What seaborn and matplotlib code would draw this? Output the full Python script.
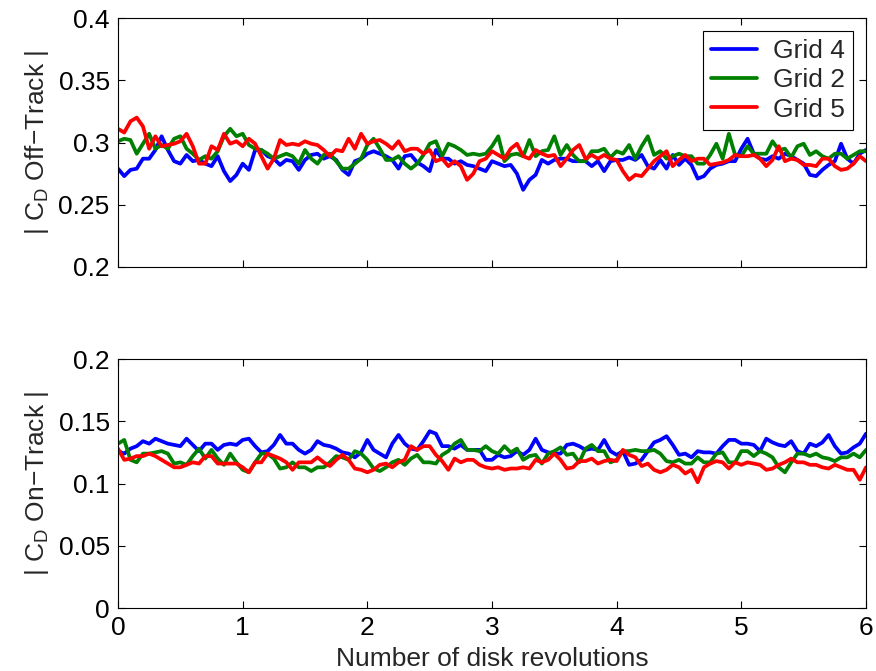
import numpy as np
import pandas as pd
import matplotlib
matplotlib.use("Agg")
import matplotlib.pyplot as plt
import seaborn as sns

# ---------------- data ----------------
revolutions = np.round(np.linspace(0.0, 6.0, 121), 3)
grids = ["Grid 4", "Grid 2", "Grid 5"]
colors = ["#0000ff", "#008000", "#ff0000"]

off_grid4 = [
    0.279, 0.273, 0.278, 0.279, 0.287, 0.287, 0.294, 0.305, 0.294, 0.285, 0.283, 0.290, 0.285, 0.286, 0.283, 0.281,
    0.289, 0.277, 0.269, 0.274, 0.283, 0.278, 0.294, 0.294, 0.289, 0.287, 0.282, 0.286, 0.285, 0.278, 0.286,
    0.290, 0.291, 0.287, 0.289, 0.286, 0.278, 0.274, 0.285, 0.287, 0.291, 0.293, 0.291, 0.289, 0.286, 0.279,
    0.289, 0.290, 0.284, 0.281, 0.277, 0.294, 0.287, 0.287, 0.283, 0.285, 0.282, 0.281, 0.279, 0.277, 0.285,
    0.283, 0.281, 0.282, 0.275, 0.262, 0.270, 0.274, 0.286, 0.283, 0.286, 0.287, 0.287, 0.285, 0.285, 0.285,
    0.281, 0.285, 0.277, 0.285, 0.286, 0.286, 0.288, 0.286, 0.290, 0.281, 0.279, 0.286, 0.279, 0.290, 0.282,
    0.287, 0.282, 0.271, 0.273, 0.279, 0.282, 0.283, 0.285, 0.285, 0.295, 0.303, 0.291, 0.287, 0.286, 0.289,
    0.287, 0.291, 0.289, 0.286, 0.283, 0.274, 0.273, 0.278, 0.282, 0.285, 0.299, 0.287, 0.283, 0.291, 0.294,
]
off_grid2 = [
    0.301, 0.303, 0.302, 0.291, 0.299, 0.307, 0.295, 0.298, 0.295, 0.303, 0.305, 0.295, 0.291, 0.286, 0.289, 0.287,
    0.293, 0.305, 0.311, 0.305, 0.307, 0.298, 0.295, 0.294, 0.291, 0.287, 0.289, 0.291, 0.289, 0.283, 0.294,
    0.287, 0.283, 0.290, 0.291, 0.285, 0.279, 0.279, 0.283, 0.287, 0.298, 0.303, 0.295, 0.286, 0.286, 0.289,
    0.283, 0.279, 0.283, 0.290, 0.299, 0.301, 0.289, 0.299, 0.297, 0.294, 0.290, 0.291, 0.290, 0.291, 0.297,
    0.305, 0.285, 0.290, 0.291, 0.289, 0.302, 0.289, 0.293, 0.294, 0.305, 0.290, 0.298, 0.290, 0.285, 0.285,
    0.293, 0.293, 0.295, 0.288, 0.293, 0.291, 0.298, 0.287, 0.297, 0.305, 0.290, 0.293, 0.287, 0.289, 0.291,
    0.289, 0.289, 0.283, 0.283, 0.290, 0.299, 0.287, 0.307, 0.290, 0.289, 0.297, 0.291, 0.291, 0.291, 0.301,
    0.294, 0.295, 0.288, 0.297, 0.299, 0.290, 0.293, 0.289, 0.287, 0.291, 0.291, 0.287, 0.290, 0.293, 0.293,
]
off_grid5 = [
    0.311, 0.308, 0.317, 0.320, 0.313, 0.295, 0.305, 0.297, 0.298, 0.299, 0.301, 0.307, 0.297, 0.283, 0.283, 0.297,
    0.294, 0.307, 0.299, 0.301, 0.297, 0.303, 0.299, 0.289, 0.279, 0.287, 0.302, 0.298, 0.299, 0.298, 0.301,
    0.299, 0.298, 0.294, 0.289, 0.294, 0.293, 0.303, 0.295, 0.307, 0.299, 0.301, 0.302, 0.299, 0.295, 0.301,
    0.293, 0.295, 0.295, 0.291, 0.294, 0.285, 0.287, 0.281, 0.285, 0.281, 0.270, 0.275, 0.285, 0.287, 0.293,
    0.290, 0.287, 0.295, 0.299, 0.289, 0.287, 0.294, 0.291, 0.289, 0.290, 0.281, 0.287, 0.294, 0.298, 0.287,
    0.290, 0.287, 0.290, 0.287, 0.286, 0.277, 0.270, 0.274, 0.273, 0.279, 0.285, 0.289, 0.293, 0.281, 0.286,
    0.290, 0.285, 0.287, 0.287, 0.282, 0.283, 0.284, 0.286, 0.290, 0.289, 0.289, 0.290, 0.287, 0.281, 0.286,
    0.297, 0.285, 0.287, 0.286, 0.282, 0.282, 0.281, 0.287, 0.287, 0.281, 0.278, 0.279, 0.283, 0.289, 0.285,
]

on_grid4 = [
    0.126, 0.124, 0.128, 0.130, 0.134, 0.132, 0.136, 0.134, 0.132, 0.131, 0.130, 0.136, 0.131, 0.126, 0.132, 0.132,
    0.127, 0.131, 0.132, 0.131, 0.135, 0.136, 0.130, 0.125, 0.126, 0.131, 0.139, 0.132, 0.132, 0.127, 0.124,
    0.127, 0.134, 0.131, 0.130, 0.128, 0.125, 0.124, 0.121, 0.125, 0.135, 0.127, 0.124, 0.121, 0.132, 0.139,
    0.132, 0.128, 0.127, 0.134, 0.142, 0.140, 0.130, 0.130, 0.128, 0.131, 0.127, 0.127, 0.127, 0.119, 0.119,
    0.123, 0.121, 0.122, 0.126, 0.123, 0.127, 0.136, 0.127, 0.125, 0.124, 0.124, 0.131, 0.132, 0.130, 0.127,
    0.128, 0.127, 0.135, 0.126, 0.123, 0.126, 0.115, 0.116, 0.119, 0.126, 0.133, 0.135, 0.138, 0.131, 0.123,
    0.124, 0.121, 0.126, 0.125, 0.125, 0.124, 0.130, 0.135, 0.135, 0.132, 0.132, 0.131, 0.126, 0.136, 0.133,
    0.131, 0.130, 0.134, 0.126, 0.124, 0.132, 0.130, 0.133, 0.139, 0.130, 0.124, 0.125, 0.129, 0.132, 0.140,
]
on_grid2 = [
    0.132, 0.135, 0.119, 0.117, 0.124, 0.124, 0.125, 0.126, 0.124, 0.116, 0.117, 0.115, 0.122, 0.128, 0.120, 0.127,
    0.120, 0.115, 0.124, 0.117, 0.111, 0.109, 0.117, 0.124, 0.124, 0.120, 0.112, 0.113, 0.117, 0.113, 0.113,
    0.110, 0.113, 0.113, 0.117, 0.122, 0.121, 0.119, 0.126, 0.124, 0.119, 0.112, 0.110, 0.113, 0.117, 0.119,
    0.115, 0.120, 0.123, 0.117, 0.117, 0.116, 0.123, 0.126, 0.132, 0.135, 0.127, 0.127, 0.126, 0.130, 0.126,
    0.124, 0.130, 0.125, 0.128, 0.119, 0.122, 0.123, 0.116, 0.124, 0.126, 0.129, 0.123, 0.124, 0.117, 0.128,
    0.131, 0.126, 0.126, 0.117, 0.119, 0.126, 0.126, 0.127, 0.126, 0.126, 0.127, 0.124, 0.118, 0.117, 0.119,
    0.116, 0.116, 0.121, 0.117, 0.117, 0.124, 0.125, 0.117, 0.117, 0.126, 0.126, 0.122, 0.126, 0.124, 0.121,
    0.113, 0.109, 0.117, 0.124, 0.124, 0.122, 0.124, 0.121, 0.120, 0.118, 0.121, 0.121, 0.124, 0.121, 0.127,
]
on_grid5 = [
    0.128, 0.119, 0.120, 0.122, 0.122, 0.124, 0.122, 0.119, 0.116, 0.113, 0.113, 0.115, 0.117, 0.116, 0.122, 0.122,
    0.116, 0.116, 0.116, 0.116, 0.113, 0.109, 0.117, 0.117, 0.124, 0.122, 0.120, 0.117, 0.111, 0.117, 0.117,
    0.117, 0.121, 0.117, 0.114, 0.119, 0.123, 0.119, 0.112, 0.111, 0.109, 0.111, 0.115, 0.116, 0.113, 0.117,
    0.119, 0.130, 0.127, 0.130, 0.130, 0.123, 0.118, 0.111, 0.120, 0.117, 0.119, 0.119, 0.115, 0.113, 0.112,
    0.113, 0.111, 0.112, 0.112, 0.113, 0.112, 0.119, 0.117, 0.119, 0.124, 0.119, 0.112, 0.113, 0.118, 0.118,
    0.120, 0.116, 0.118, 0.119, 0.118, 0.127, 0.123, 0.121, 0.114, 0.116, 0.111, 0.109, 0.111, 0.115, 0.113,
    0.108, 0.111, 0.101, 0.113, 0.116, 0.118, 0.117, 0.112, 0.117, 0.115, 0.117, 0.116, 0.115, 0.111, 0.112,
    0.115, 0.117, 0.120, 0.117, 0.117, 0.115, 0.115, 0.113, 0.112, 0.115, 0.113, 0.111, 0.111, 0.103, 0.113,
]

top_yticks = [0.2, 0.25, 0.3, 0.35, 0.4]
top_yticklabels = ["0.2", "0.25", "0.3", "0.35", "0.4"]
bot_yticks = [0.0, 0.05, 0.1, 0.15, 0.2]
bot_yticklabels = ["0", "0.05", "0.1", "0.15", "0.2"]
xticks = [0, 1, 2, 3, 4, 5, 6]
xticklabels = ["0", "1", "2", "3", "4", "5", "6"]

# ---------------- build tables ----------------
def long_table(series_list):
    frames = []
    for name, vals in zip(grids, series_list):
        assert len(vals) == len(revolutions), (name, len(vals))
        frames.append(pd.DataFrame({"rev": revolutions, "cd": vals, "grid": name}))
    return pd.concat(frames, ignore_index=True)

df_off = long_table([off_grid4, off_grid2, off_grid5])
df_on = long_table([on_grid4, on_grid2, on_grid5])

# ---------------- style ----------------
sns.set_theme(style="white")
plt.rcParams["font.family"] = ["Liberation Sans", "DejaVu Sans"]
plt.rcParams["mathtext.fontset"] = "custom"
plt.rcParams["mathtext.rm"] = "Liberation Sans"
plt.rcParams["mathtext.it"] = "Liberation Sans"
plt.rcParams["axes.unicode_minus"] = True
FS = 19

fig = plt.figure(figsize=(8.76, 6.71), dpi=100)
W, H = 876.0, 671.0
ax_top = fig.add_axes([118 / W, 1 - 267 / H, 748 / W, 249 / H])
ax_bot = fig.add_axes([118 / W, 1 - 608 / H, 748 / W, 249 / H])

palette = dict(zip(grids, colors))
sns.lineplot(data=df_off, x="rev", y="cd", hue="grid", hue_order=grids, palette=palette,
             linewidth=2.7, ax=ax_top, estimator=None, sort=False)
sns.lineplot(data=df_on, x="rev", y="cd", hue="grid", hue_order=grids, palette=palette,
             linewidth=2.7, ax=ax_bot, estimator=None, sort=False, legend=False)

for ax, yt, ytl in [(ax_top, top_yticks, top_yticklabels), (ax_bot, bot_yticks, bot_yticklabels)]:
    ax.set_xlim(0, 6)
    ax.set_ylim(yt[0], yt[-1])
    ax.set_yticks(yt)
    ax.set_yticklabels(ytl)
    ax.set_xticks(xticks)
    ax.tick_params(direction="in", length=5, width=0.8, top=True, right=True,
                   bottom=True, left=True, labelsize=FS, colors="black", pad=6)
    for sp in ax.spines.values():
        sp.set_visible(True)
        sp.set_color("black")
        sp.set_linewidth(0.8)
    ax.grid(False)

ax_top.set_xticklabels([])
ax_top.set_xlabel("")
ax_bot.set_xticklabels(xticklabels)
ax_bot.set_xlabel("Number of disk revolutions", fontsize=FS, labelpad=5)

ax_top.set_ylabel("| C$_\\mathrm{D}$ Off\u2212Track |", fontsize=FS)
ax_bot.set_ylabel("| C$_\\mathrm{D}$ On\u2212Track |", fontsize=FS)
ax_top.yaxis.set_label_coords(-0.09, 0.5)
ax_bot.yaxis.set_label_coords(-0.09, 0.5)

leg = ax_top.legend(loc="upper right", fontsize=FS, frameon=True, fancybox=False,
                    edgecolor="black", framealpha=1, borderaxespad=0.5,
                    handlelength=1.75, handletextpad=0.6, labelspacing=0.2,
                    borderpad=0.3, title=None)
leg.get_frame().set_linewidth(0.8)
for line in leg.get_lines():
    line.set_linewidth(2.7)

fig.savefig("out.png", dpi=100)
